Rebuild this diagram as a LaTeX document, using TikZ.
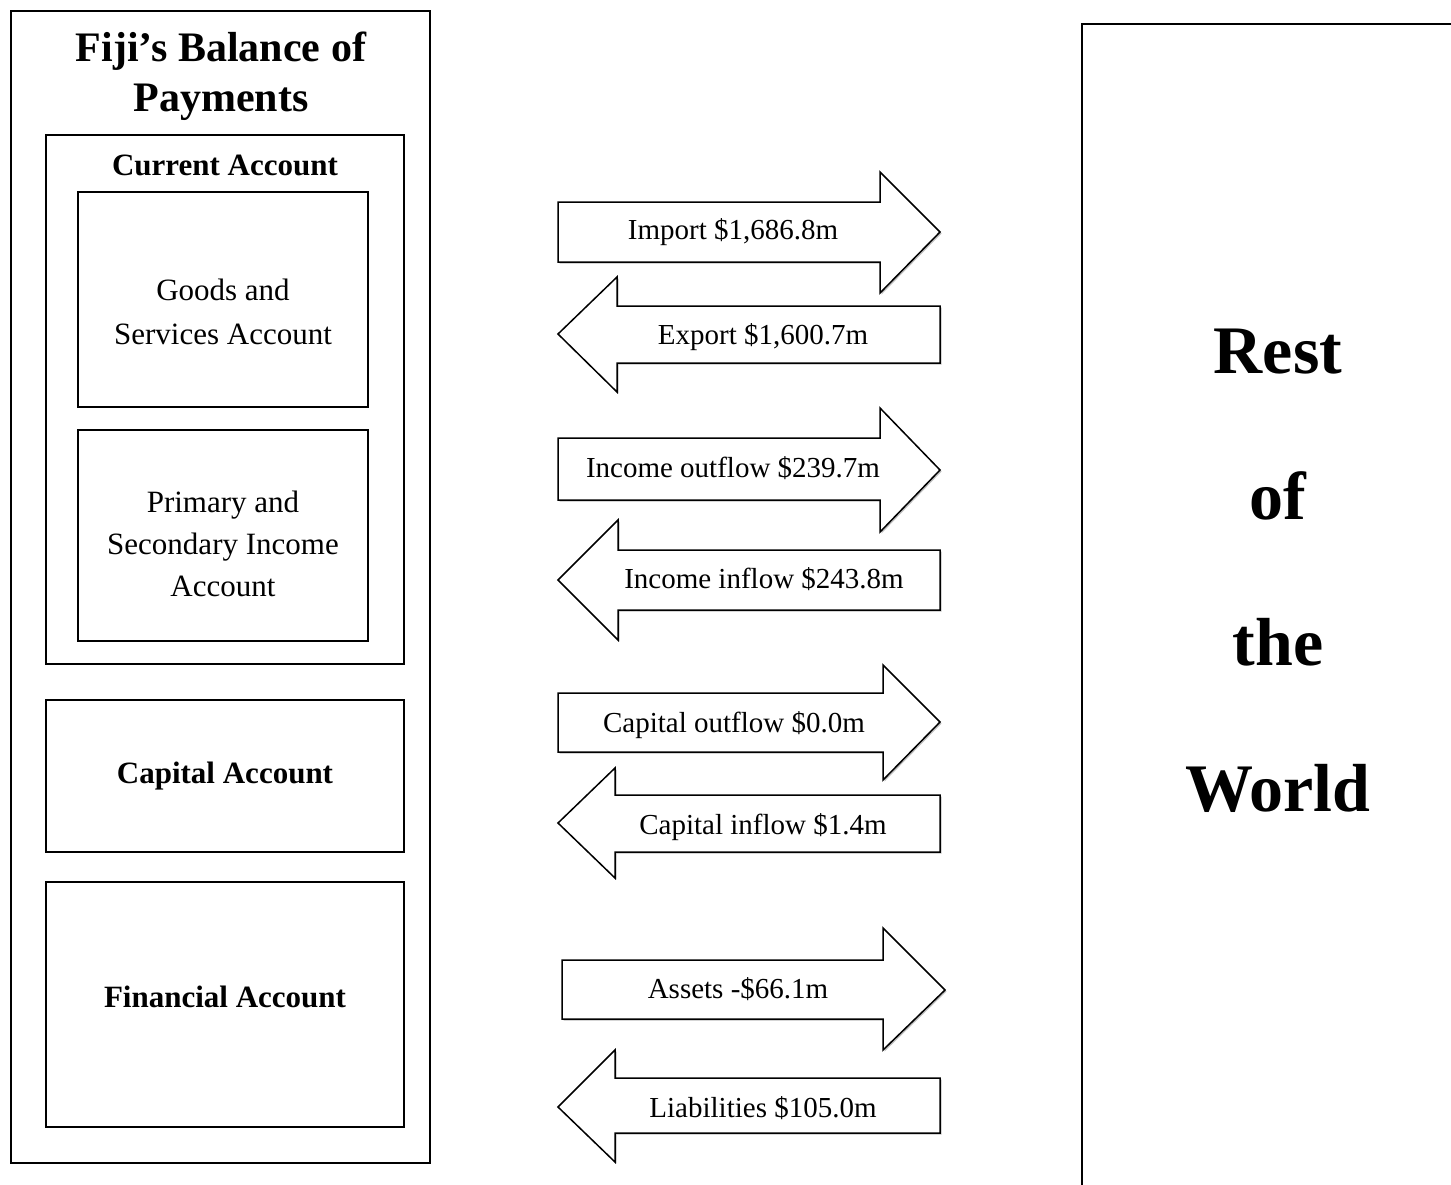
\documentclass[tikz,border=0pt]{standalone}
\usepackage{fontspec}
\setmainfont{Liberation Serif}
\usetikzlibrary{shadows}
\begin{document}
\begin{tikzpicture}[x=1pt,y=-1pt,
  box/.style={draw, line width=1.6pt},
  flow/.style={draw, line width=1.5pt, fill=white, line join=miter,
    drop shadow={shadow xshift=1.5pt, shadow yshift=-1.5pt, opacity=0.25, fill=black}},
  lbl/.style={font=\fontsize{29}{34}\selectfont, inner sep=0pt},
  boxtxt/.style={font=\fontsize{31}{44}\selectfont, align=center, inner sep=0pt},
  boldtxt/.style={font=\fontsize{31}{38}\selectfont\bfseries, align=center, inner sep=0pt},
  titletxt/.style={font=\fontsize{42}{50}\selectfont\bfseries, align=center, inner sep=0pt},
  rowtxt/.style={font=\fontsize{68}{146}\selectfont\bfseries, align=center, inner sep=0pt},
]
\useasboundingbox (0,0) rectangle (1451,1184);
\fill[white] (0,0) rectangle (1451,1184);

% left block
\draw[box] (11,11) rectangle (430,1163);
\node[titletxt] (title) at (221,76) {Fiji’s Balance of\\Payments};

\draw[box] (46,135) rectangle (404,664);
\node[boldtxt] (cur) at (225,165) {Current Account};

\draw[box] (78,192) rectangle (368,407);
\node[boxtxt] (gs) at (223,312) {Goods and\\Services Account};

\draw[box] (78,430) rectangle (368,641);
\node[font=\fontsize{31}{42}\selectfont, align=center, inner sep=0pt] (pi) at (223,544) {Primary and\\Secondary Income\\Account};

\draw[box] (46,700) rectangle (404,852);
\node[boldtxt] (cap) at (225,776) {Capital Account};

\draw[box] (46,882) rectangle (404,1127);
\node[boldtxt] (fin) at (225,997) {Financial Account};

% right block
\draw[box] (1082,24) rectangle (1475,1210);
\node[rowtxt] (row) at (1278,571) {Rest\\of\\the\\World};

% flows
\draw[flow] (558,202) -- (880,202) -- (880,172) -- (940,232) -- (880,293) -- (880,262) -- (558,262) -- cycle;
\node[lbl] (imp) at (733,232) {Import \$1,686.8m};

\draw[flow] (940,306) -- (617,306) -- (617,277) -- (558,334) -- (617,392) -- (617,363) -- (940,363) -- cycle;
\node[lbl] (exp) at (763,337) {Export \$1,600.7m};

\draw[flow] (558,438) -- (880,438) -- (880,408) -- (940,470) -- (880,532) -- (880,500) -- (558,500) -- cycle;
\node[lbl] (iout) at (733,468) {Income outflow \$239.7m};

\draw[flow] (940,550) -- (618,550) -- (618,520) -- (558,580) -- (618,640) -- (618,610) -- (940,610) -- cycle;
\node[lbl] (iin) at (764,579) {Income inflow \$243.8m};

\draw[flow] (558,693) -- (883,693) -- (883,665) -- (940,722) -- (883,780) -- (883,752) -- (558,752) -- cycle;
\node[lbl] (cout) at (734,725) {Capital outflow \$0.0m};

\draw[flow] (940,795) -- (615,795) -- (615,768) -- (558,823) -- (615,878) -- (615,852) -- (940,852) -- cycle;
\node[lbl] (cin) at (763,827) {Capital inflow \$1.4m};

\draw[flow] (562,960) -- (883,960) -- (883,928) -- (945,990) -- (883,1050) -- (883,1019) -- (562,1019) -- cycle;
\node[lbl] (ast) at (738,989) {Assets -\$66.1m};

\draw[flow] (940,1078) -- (615,1078) -- (615,1050) -- (558,1107) -- (615,1162) -- (615,1133) -- (940,1133) -- cycle;
\node[lbl] (lia) at (763,1108) {Liabilities \$105.0m};
\end{tikzpicture}
\end{document}
